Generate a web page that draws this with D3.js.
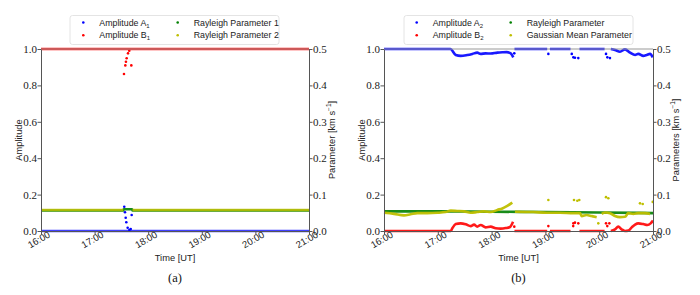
<!DOCTYPE html>
<html>
<head>
<meta charset="utf-8">
<script src="https://cdn.jsdelivr.net/npm/d3@7"></script>
<style>
  body { margin: 0; background: #fff; }
  svg { display: block; }
  .tick text { fill: #222; }
</style>
</head>
<body>
<div id="chart"></div>
<script>
// times are minutes after 16:00 UT, amplitudes on left axis, parameters (km/s) on right axis
const timeTicks = [0, 60, 120, 180, 240, 300];
const timeLabels = ["16:00", "17:00", "18:00", "19:00", "20:00", "21:00"];
const ampTicks = [0, 0.2, 0.4, 0.6, 0.8, 1.0];
const parTicks = [0, 0.1, 0.2, 0.3, 0.4, 0.5];

// panel (a)
const ampA1Line = [[0, 0], [300, 0]];
const ampA1Pts = [[93.2, 0.133], [94, 0.103], [94.8, 0.073], [95.5, 0.048], [97, 0.018], [98.9, 0.005], [100.4, 0.011], [101.5, 0.088]];
const ampB1Line = [[0, 1], [300, 1]];
const ampB1Pts = [[92.9, 0.863], [94.4, 0.91], [95.1, 0.93], [95.9, 0.949], [97.4, 0.976], [98.8, 0.99], [101.1, 0.91]];
const ray1Line = [[0, 0.0565], [92, 0.0565], [92.5, 0.0598], [102, 0.0598], [102.5, 0.0565], [300, 0.0565]];
const ray2Line = [[0, 0.0578], [92, 0.0578], [92.5, null], [102.5, 0.0578], [300, 0.0578]];

// panel (b)
const ampA2Line = [[0, 1], [74, 1], [80, 0.967], [85.5, 0.962], [92.9, 0.967], [98.5, 0.973], [104, 0.98], [107.8, 0.973],
  [113.4, 0.976], [119, 0.975], [126.4, 0.98], [132, 0.982], [136.8, 0.983], [141.3, 0.976], [144.2, 0.954], [144.5, null],
  [145.5, 1], [182, 1], [183, null], [185, 1], [208, 1], [209, null], [218, 1], [246, 1], [247, null], [253, 1],
  [257.6, 0.995], [263.2, 0.985], [268.8, 0.998], [274.4, 0.98], [280, 0.967], [283.6, 0.973], [289.2, 0.962],
  [293, 0.967], [296.7, 0.973], [299.7, 0.954]];
const ampA2Pts = [[145.3, 0.976], [183.3, 0.973], [209.4, 0.973], [211.2, 0.954], [213, 0.952], [216.7, 0.95], [247.6, 0.973], [249.1, 0.954], [252, 0.95]];
const ampB2Line = [[0, 0], [74.4, 0], [76.2, 0.015], [80, 0.038], [85.5, 0.042], [91.1, 0.037], [96.7, 0.027], [100.4, 0.035],
  [104, 0.024], [107.8, 0.033], [113.4, 0.02], [119, 0.024], [124.6, 0.015], [130.2, 0.013], [135.7, 0.016], [140.5, 0.022],
  [143.9, 0.051], [144.5, null], [145.5, 0], [182, 0], [183, null], [185, 0], [208, 0], [209, null], [218, 0], [246, 0],
  [247, null], [253, 0], [257.6, 0.009], [261.3, 0.024], [265, 0.009], [268.8, 0], [272.5, 0.002], [276.3, 0.02],
  [280, 0.035], [283.6, 0.042], [289.2, 0.038], [293.6, 0.033], [297.4, 0.042], [300, 0.057]];
const ampB2Pts = [[145.3, 0.024], [183.3, 0.027], [211, 0.027], [211.2, 0.042], [213, 0.046], [216.7, 0.042], [247.6, 0.042], [249, 0.027], [251.3, 0.042]];
const rayBLine = [[0, 0.054], [60, 0.054], [120, 0.053], [180, 0.052], [240, 0.051], [300, 0.049]];
const gaussBLine = [[0, 0.05], [11.2, 0.047], [22.3, 0.043], [29.7, 0.046], [37.2, 0.049], [48.3, 0.049], [59.5, 0.05],
  [68.8, 0.052], [74.4, 0.056], [81.8, 0.055], [89.2, 0.054], [96.7, 0.05], [104, 0.052], [111.5, 0.054], [119, 0.052],
  [126.4, 0.058], [132, 0.062], [137.5, 0.069], [143.1, 0.078], [144, null], [146, 0.053], [166.5, 0.052], [181.4, 0.05],
  [196.3, 0.05], [211.2, 0.049], [218.6, 0.049], [220.4, 0.041], [226, 0.044], [231.6, 0.041], [237.2, 0.038], [238, null],
  [242.8, 0.047], [246.5, 0.051], [252, 0.049], [257.6, 0.041], [263.2, 0.038], [268.8, 0.039], [272.5, 0.049],
  [278, 0.047], [283.6, 0.049], [291.1, 0.049], [296.7, 0.047]];
const gaussBPts = [[183.3, 0.085], [211.9, 0.085], [215.6, 0.083], [217.8, 0.085], [239, 0.021], [247.6, 0.093], [250.2, 0.09], [285.5, 0.076], [288.5, 0.074], [299.7, 0.08]];

const colBlue = "#0000ff", colRed = "#ff0000", colGreen = "#008000", colYellow = "#bfbf00";
const serif = "'Liberation Serif', 'Times New Roman', serif";
const sans = "'Liberation Sans', Arial, sans-serif";

const svg = d3.select("#chart").append("svg")
  .attr("width", 700)
  .attr("height", 295);

const panels = [
  {
    left: 41, right: 309, caption: "(a)", rightLabel: "Parameter",
    legendBox: [70, 279], legendCols: [83.3, 177.7],
    legend: [
      { name: "Amplitude A", sub: "1", color: colBlue },
      { name: "Amplitude B", sub: "1", color: colRed },
      { name: "Rayleigh Parameter 1", color: colGreen },
      { name: "Rayleigh Parameter 2", color: colYellow }
    ],
    series: [
      { line: ampA1Line, pts: ampA1Pts, color: colBlue, axis: "amp", opacity: 0.75 },
      { line: ampB1Line, pts: ampB1Pts, color: colRed, axis: "amp" },
      { line: ray1Line, pts: [], color: colGreen, axis: "par" },
      { line: ray2Line, pts: [], color: colYellow, axis: "par", opacity: 0.85 }
    ]
  },
  {
    left: 384, right: 653, caption: "(b)", rightLabel: "Parameters",
    legendBox: [404, 633], legendCols: [416.7, 510.7],
    legend: [
      { name: "Amplitude A", sub: "2", color: colBlue },
      { name: "Amplitude B", sub: "2", color: colRed },
      { name: "Rayleigh Parameter", color: colGreen },
      { name: "Gaussian Mean Parameter", color: colYellow }
    ],
    series: [
      { line: ampA2Line, pts: ampA2Pts, color: colBlue, axis: "amp" },
      { line: ampB2Line, pts: ampB2Pts, color: colRed, axis: "amp" },
      { line: rayBLine, pts: [], color: colGreen, axis: "par" },
      { line: gaussBLine, pts: gaussBPts, color: colYellow, axis: "par", opacity: 0.95 }
    ]
  }
];

const plotTop = 49, plotBottom = 231;

panels.forEach(p => {
  const x = d3.scaleLinear().domain([0, 300]).range([p.left, p.right]);
  const yAmp = d3.scaleLinear().domain([0, 1]).range([plotBottom, plotTop]);
  const yPar = d3.scaleLinear().domain([0, 0.5]).range([plotBottom, plotTop]);

  const g = svg.append("g");

  // data
  g.append("g").selectAll("g")
    .data(p.series)
    .join("g")
    .each(function(s) {
      const y = s.axis === "amp" ? yAmp : yPar;
      const line = d3.line()
        .defined(d => d[1] != null)
        .x(d => x(d[0]))
        .y(d => y(d[1]))
        .curve(d3.curveMonotoneX);
      d3.select(this).append("path")
        .attr("d", line(s.line))
        .attr("fill", "none")
        .attr("stroke", s.color)
        .attr("stroke-width", 2.6)
        .attr("opacity", s.opacity || 0.9);
      d3.select(this).selectAll("circle")
        .data(s.pts)
        .join("circle")
        .attr("cx", d => x(d[0]))
        .attr("cy", d => y(d[1]))
        .attr("r", 1.3)
        .attr("fill", s.color);
    });

  // axes
  const xAxis = g.append("g")
    .attr("transform", `translate(0,${plotBottom})`)
    .call(d3.axisBottom(x).tickValues(timeTicks).tickFormat((d, i) => timeLabels[i]).tickSize(3.5).tickSizeOuter(0));
  xAxis.select(".domain").attr("stroke", "#555");
  xAxis.selectAll(".tick line").attr("stroke", "#555");
  xAxis.selectAll(".tick text")
    .style("font-family", sans)
    .style("font-size", "9.5px")
    .attr("text-anchor", "middle")
    .attr("y", 0).attr("dy", 0)
    .attr("transform", "translate(-1,11.5) rotate(-30)");

  const yAxisL = g.append("g")
    .attr("transform", `translate(${p.left},0)`)
    .call(d3.axisLeft(yAmp).tickValues(ampTicks).tickFormat(d3.format(".1f")).tickSize(3.5).tickSizeOuter(0));
  const yAxisR = g.append("g")
    .attr("transform", `translate(${p.right},0)`)
    .call(d3.axisRight(yPar).tickValues(parTicks).tickFormat(d3.format(".1f")).tickSize(3.5).tickSizeOuter(0));
  [yAxisL, yAxisR].forEach(a => {
    a.select(".domain").attr("stroke", "#555");
    a.selectAll(".tick line").attr("stroke", "#555");
    a.selectAll(".tick text")
      .style("font-family", serif)
      .style("font-size", "11px");
  });
  yAxisL.selectAll(".tick text").attr("x", -4);
  yAxisR.selectAll(".tick text").attr("x", 4);

  // top spine
  g.append("line")
    .attr("x1", p.left).attr("x2", p.right)
    .attr("y1", plotTop).attr("y2", plotTop)
    .attr("stroke", "#999").attr("stroke-width", 1);

  // labels
  g.append("text")
    .attr("x", (p.left + p.right) / 2).attr("y", 261)
    .attr("text-anchor", "middle")
    .style("font-family", sans).style("font-size", "9.3px").attr("fill", "#222")
    .text("Time [UT]");

  g.append("text")
    .attr("transform", `translate(${p.left - 22.5},${(plotTop + plotBottom) / 2}) rotate(-90)`)
    .attr("text-anchor", "middle").attr("dy", "0.35em")
    .style("font-family", sans).style("font-size", "9.3px").attr("fill", "#222")
    .text("Amplitude");

  const rl = g.append("text")
    .attr("transform", `translate(${p.right + 22.5},${(plotTop + plotBottom) / 2}) rotate(-90)`)
    .attr("text-anchor", "middle").attr("dy", "0.35em")
    .style("font-family", sans).style("font-size", "9.3px").attr("fill", "#222");
  rl.append("tspan").text(p.rightLabel + " [km s");
  rl.append("tspan").attr("dy", -3.5).style("font-size", "6.5px").text("\u22121");
  rl.append("tspan").attr("dy", 3.5).text("]");

  g.append("text")
    .attr("x", (p.left + p.right) / 2).attr("y", 281.5)
    .attr("text-anchor", "middle")
    .style("font-family", serif)
    .style("font-size", "12.5px").attr("fill", "#111")
    .text(p.caption);

  // legend
  const lg = g.append("g");
  lg.append("rect")
    .attr("x", p.legendBox[0]).attr("y", 15.5)
    .attr("width", p.legendBox[1] - p.legendBox[0]).attr("height", 29)
    .attr("rx", 2.5)
    .attr("fill", "#fff").attr("stroke", "#ddd").attr("stroke-width", 0.8);
  const rows = [22.5, 35.2];
  const items = lg.selectAll("g.item")
    .data(p.legend)
    .join("g")
    .attr("class", "item")
    .attr("transform", (d, i) => `translate(${p.legendCols[Math.floor(i / 2)]},${rows[i % 2]})`);
  items.append("circle").attr("r", 1.3).attr("fill", d => d.color);
  const lt = items.append("text")
    .attr("x", 16).attr("dy", "0.35em")
    .style("font-family", sans).style("font-size", "8.8px").attr("fill", "#222");
  lt.append("tspan").text(d => d.name);
  lt.filter(d => d.sub).append("tspan")
    .attr("dy", 2).style("font-size", "6px").text(d => d.sub);
});
</script>
</body>
</html>
